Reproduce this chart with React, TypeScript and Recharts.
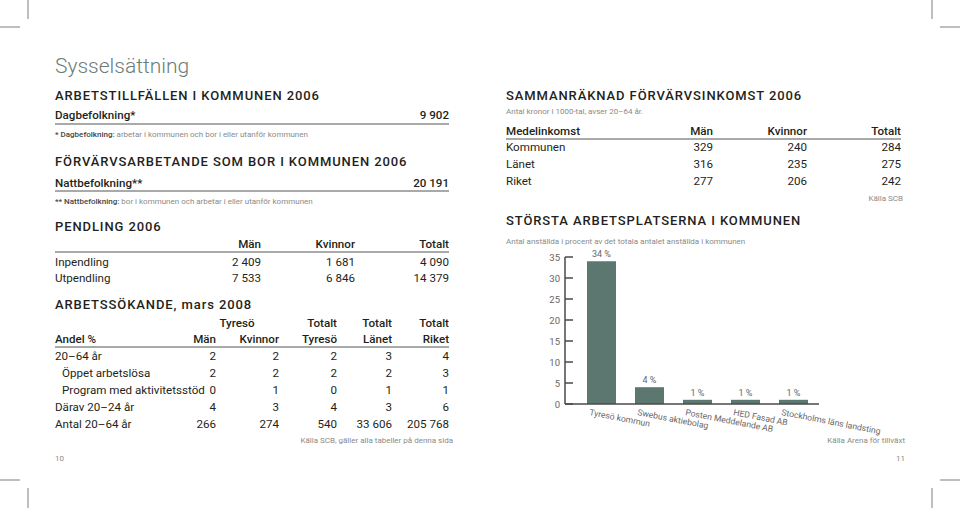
import React from "react";
import { BarChart, Bar, XAxis, YAxis, LabelList } from "recharts";

// Största arbetsplatserna (andel av anställda, %)
const employers = [
  "Tyresö kommun",
  "Swebus aktiebolag",
  "Posten Meddelande AB",
  "HED Fasad AB",
  "Stockholms läns landsting",
];
const employeeShare = [34, 4, 1, 1, 1];
const shareTicks = [0, 5, 10, 15, 20, 25, 30, 35];

// Pendling 2006
const pendlingCols = ["Män", "Kvinnor", "Totalt"];
const pendlingLabels = ["Inpendling", "Utpendling"];
const pendlingValues = [
  ["2 409", "1 681", "4 090"],
  ["7 533", "6 846", "14 379"],
];

// Arbetssökande, mars 2008
const sokandeTop = ["", "", "Totalt", "Totalt", "Totalt"];
const sokandeCols = ["Män", "Kvinnor", "Tyresö", "Länet", "Riket"];
const sokandeLabels = [
  "20–64 år",
  "Öppet arbetslösa",
  "Program med aktivitetsstöd",
  "Därav 20–24 år",
  "Antal 20–64 år",
];
const sokandeIndent = [false, true, true, false, false];
const sokandeValues = [
  ["2", "2", "2", "3", "4"],
  ["2", "2", "2", "2", "3"],
  ["0", "1", "0", "1", "1"],
  ["4", "3", "4", "3", "6"],
  ["266", "274", "540", "33 606", "205 768"],
];

// Sammanräknad förvärvsinkomst 2006
const inkomstCols = ["Män", "Kvinnor", "Totalt"];
const inkomstLabels = ["Kommunen", "Länet", "Riket"];
const inkomstMen = [329, 316, 277];
const inkomstWomen = [240, 235, 206];
const inkomstTotal = [284, 275, 242];

const FONT = "Roboto, 'Noto Sans', sans-serif";
const INK = "#231f20";
const MUTED = "#8a8a8a";
const RULE = "#8c8c8c";
const BAR = "#5b7770";
const BODY = 11.6;

const chartData = employers.map((name, i) => ({ name, share: employeeShare[i] }));

const Heading = ({ x, y, children }: { x: number; y: number; children: React.ReactNode }) => (
  <text x={x} y={y} fontSize={13} fontWeight={500} letterSpacing={0.9} fill={INK}>
    {children}
  </text>
);

const ShareTick = (props: any) => {
  const { x, y, payload } = props;
  return (
    <g>
      <line x1={x + 5} x2={x + 13} y1={y} y2={y} stroke="#4a4a4a" strokeWidth={1.5} />
      <text x={x} y={y} dy="0.45em" textAnchor="end" fontSize={9.5} fill="#666" fontFamily={FONT}>
        {payload.value}
      </text>
    </g>
  );
};

const EmployerTick = (props: any) => {
  const { x, y, payload } = props;
  const tx = x - 12;
  const ty = y + 11;
  return (
    <text
      x={tx}
      y={ty}
      transform={`rotate(11, ${tx}, ${ty})`}
      textAnchor="start"
      fontSize={8.6}
      fill="#666"
      fontFamily={FONT}
    >
      {payload.value}
    </text>
  );
};

const ShareLabel = (props: any) => {
  const { x, y, width, value } = props;
  return (
    <text x={x + width / 2} y={y - 4} textAnchor="middle" fontSize={9} fill="#666" fontFamily={FONT}>
      {`${value} %`}
    </text>
  );
};

function EmployerChart() {
  return (
    <div style={{ position: "absolute", left: 500, top: 240 }}>
      <BarChart
        width={420}
        height={200}
        data={chartData}
        margin={{ top: 17, right: 101, bottom: 0, left: 0 }}
        barSize={29}
        style={{ overflow: "visible" }}
      >
        <XAxis
          dataKey="name"
          interval={0}
          height={36}
          padding={{ left: 12, right: 2 }}
          axisLine={{ stroke: "#4a4a4a", strokeWidth: 1.5 }}
          tickLine={false}
          tickSize={0}
          tickMargin={0}
          tick={(p: any) => <EmployerTick {...p} />}
        />
        <YAxis
          domain={[0, 35]}
          ticks={shareTicks}
          interval={0}
          width={65}
          axisLine={{ stroke: "#4a4a4a", strokeWidth: 1.5 }}
          tickLine={false}
          tickSize={0}
          tickMargin={5}
          tick={(p: any) => <ShareTick {...p} />}
        />
        <Bar dataKey="share" fill={BAR} isAnimationActive={false}>
          <LabelList dataKey="share" content={(p: any) => <ShareLabel {...p} />} />
        </Bar>
      </BarChart>
    </div>
  );
}

export default function App() {
  const pendCols = [261, 355, 449];
  const sokCols = [216, 279, 337, 392, 449];
  const sokRowsY = [360, 377, 394, 411, 428];
  const inkCols = [713, 807, 901];
  const inkRowsY = [151, 168, 185];

  return (
    <div
      style={{
        position: "absolute",
        left: 0,
        top: 0,
        width: 960,
        height: 508,
        background: "#fff",
        overflow: "hidden",
        fontFamily: FONT,
      }}
    >
      <svg width={960} height={508} style={{ position: "absolute", left: 0, top: 0 }} fontFamily={FONT}>
        {/* crop marks */}
        <g stroke="#aaa" strokeWidth={1.5}>
          <line x1={28} y1={0} x2={28} y2={19} />
          <line x1={0} y1={27} x2={20} y2={27} />
          <line x1={932} y1={0} x2={932} y2={19} />
          <line x1={940} y1={27} x2={960} y2={27} />
          <line x1={0} y1={480} x2={20} y2={480} />
          <line x1={28} y1={488} x2={28} y2={508} />
          <line x1={940} y1={480} x2={960} y2={480} />
          <line x1={932} y1={488} x2={932} y2={508} />
        </g>

        {/* left page */}
        <text x={55} y={73} fontSize={21} fontWeight={300} fill="#6b7d78">
          Sysselsättning
        </text>

        <Heading x={55} y={100}>ARBETSTILLFÄLLEN I KOMMUNEN 2006</Heading>
        <text x={55} y={119} fontSize={BODY} fontWeight={500} fill={INK}>Dagbefolkning*</text>
        <text x={449} y={119} fontSize={BODY} fontWeight={500} fill={INK} textAnchor="end">9 902</text>
        <line x1={55} x2={449} y1={124} y2={124} stroke={RULE} strokeWidth={1.5} />
        <text x={55} y={137} fontSize={8} fill={MUTED}>
          <tspan fill="#444" fontWeight={500}>* Dagbefolkning:</tspan> arbetar i kommunen och bor i eller utanför kommunen
        </text>

        <Heading x={55} y={166}>FÖRVÄRVSARBETANDE SOM BOR I KOMMUNEN 2006</Heading>
        <text x={55} y={187} fontSize={BODY} fontWeight={500} fill={INK}>Nattbefolkning**</text>
        <text x={449} y={187} fontSize={BODY} fontWeight={500} fill={INK} textAnchor="end">20 191</text>
        <line x1={55} x2={449} y1={191} y2={191} stroke={RULE} strokeWidth={1.5} />
        <text x={55} y={204} fontSize={8} fill={MUTED}>
          <tspan fill="#444" fontWeight={500}>** Nattbefolkning:</tspan> bor i kommunen och arbetar i eller utanför kommunen
        </text>

        <Heading x={55} y={231}>PENDLING 2006</Heading>
        {pendlingCols.map((c, i) => (
          <text key={c} x={pendCols[i]} y={248} fontSize={BODY} fontWeight={500} fill={INK} textAnchor="end">{c}</text>
        ))}
        <line x1={55} x2={449} y1={252} y2={252} stroke={RULE} strokeWidth={1.5} />
        {pendlingLabels.map((lab, r) => (
          <g key={lab}>
            <text x={55} y={266 + r * 16} fontSize={BODY} fill={INK}>{lab}</text>
            {pendlingValues[r].map((v, i) => (
              <text key={i} x={pendCols[i]} y={266 + r * 16} fontSize={BODY} fill={INK} textAnchor="end">{v}</text>
            ))}
          </g>
        ))}

        <Heading x={55} y={309}>ARBETSSÖKANDE, mars 2008</Heading>
        <text x={237} y={327} fontSize={BODY} fontWeight={500} fill={INK} textAnchor="middle">Tyresö</text>
        {sokandeTop.map((c, i) =>
          c ? (
            <text key={i} x={sokCols[i]} y={327} fontSize={BODY} fontWeight={500} fill={INK} textAnchor="end">{c}</text>
          ) : null
        )}
        <text x={55} y={343} fontSize={BODY} fontWeight={500} fill={INK}>Andel %</text>
        {sokandeCols.map((c, i) => (
          <text key={c} x={sokCols[i]} y={343} fontSize={BODY} fontWeight={500} fill={INK} textAnchor="end">{c}</text>
        ))}
        <line x1={55} x2={449} y1={347} y2={347} stroke={RULE} strokeWidth={1.5} />
        {sokandeLabels.map((lab, r) => (
          <g key={lab}>
            <text x={sokandeIndent[r] ? 62 : 55} y={sokRowsY[r]} fontSize={BODY} fill={INK}>{lab}</text>
            {sokandeValues[r].map((v, i) => (
              <text key={i} x={sokCols[i]} y={sokRowsY[r]} fontSize={BODY} fill={INK} textAnchor="end">{v}</text>
            ))}
          </g>
        ))}
        <text x={453} y={443} fontSize={8} fill={MUTED} textAnchor="end">
          Källa SCB, gäller alla tabeller på denna sida
        </text>
        <text x={55} y={461} fontSize={8} fill={MUTED}>10</text>

        {/* right page */}
        <Heading x={506} y={100}>SAMMANRÄKNAD FÖRVÄRVSINKOMST 2006</Heading>
        <text x={506} y={114} fontSize={8} fill={MUTED}>Antal kronor i 1000-tal, avser 20–64 år.</text>
        <text x={506} y={135} fontSize={BODY} fontWeight={500} fill={INK}>Medelinkomst</text>
        {inkomstCols.map((c, i) => (
          <text key={c} x={inkCols[i]} y={135} fontSize={BODY} fontWeight={500} fill={INK} textAnchor="end">{c}</text>
        ))}
        <line x1={506} x2={901} y1={139} y2={139} stroke={RULE} strokeWidth={1.5} />
        {inkomstLabels.map((lab, r) => (
          <g key={lab}>
            <text x={506} y={inkRowsY[r]} fontSize={BODY} fill={INK}>{lab}</text>
            {[inkomstMen[r], inkomstWomen[r], inkomstTotal[r]].map((v, i) => (
              <text key={i} x={inkCols[i]} y={inkRowsY[r]} fontSize={BODY} fill={INK} textAnchor="end">{v}</text>
            ))}
          </g>
        ))}
        <text x={903} y={201} fontSize={8} fill={MUTED} textAnchor="end">Källa SCB</text>

        <Heading x={506} y={225}>STÖRSTA ARBETSPLATSERNA I KOMMUNEN</Heading>
        <text x={506} y={244} fontSize={8} fill={MUTED}>
          Antal anställda i procent av det totala antalet anställda i kommunen
        </text>
        <text x={905} y={443} fontSize={8} fill={MUTED} textAnchor="end">Källa Arena för tillväxt</text>
        <text x={905} y={461} fontSize={8} fill={MUTED} textAnchor="end">11</text>
      </svg>
      <EmployerChart />
    </div>
  );
}
